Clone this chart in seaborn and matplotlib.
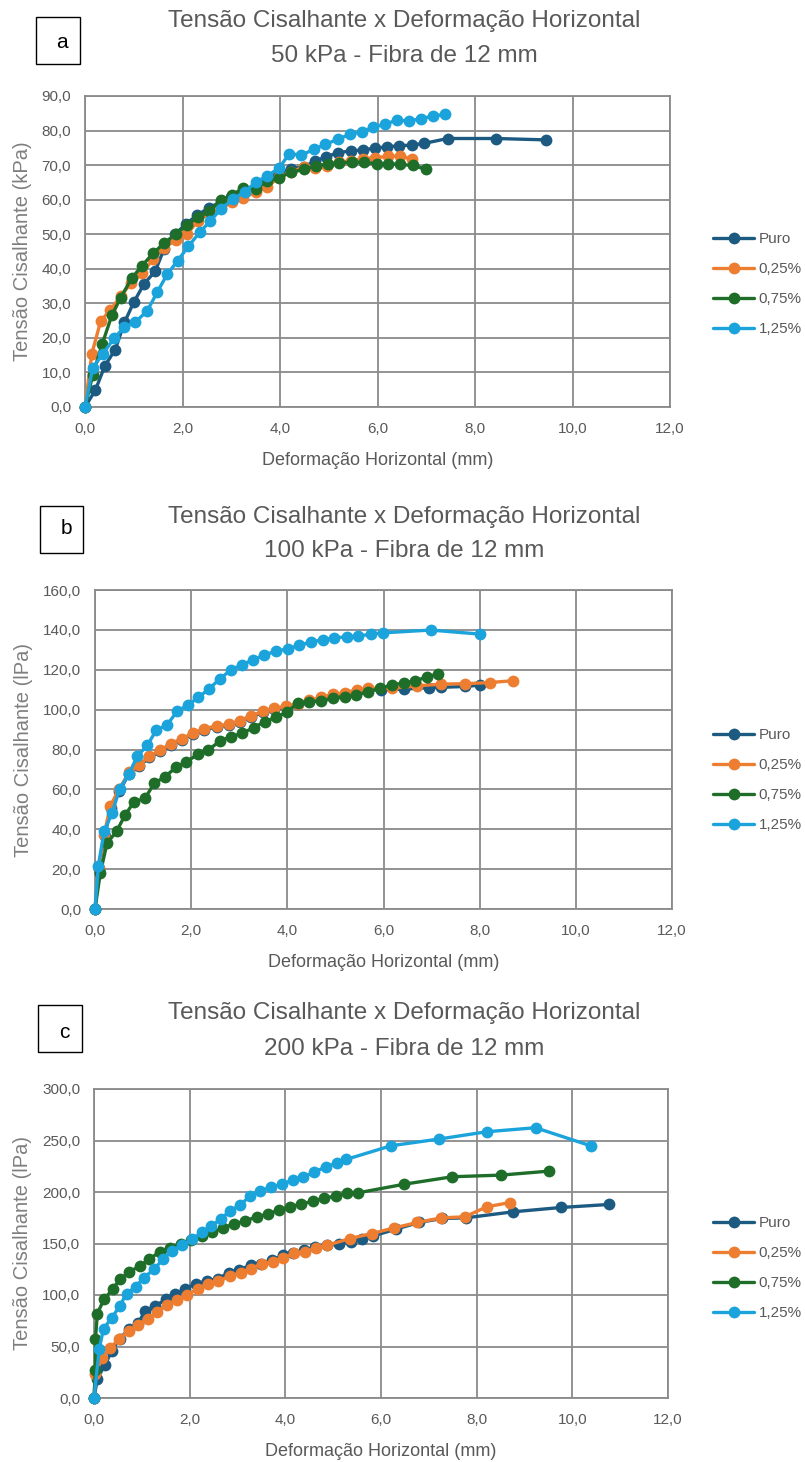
import numpy as np
import pandas as pd
import matplotlib
matplotlib.use("Agg")
import matplotlib.pyplot as plt
from matplotlib.patches import Rectangle
from matplotlib.ticker import FuncFormatter, MultipleLocator
import seaborn as sns

# ---------------- data ----------------
series = ["Puro", "0,25%", "0,75%", "1,25%"]
colors = ["#1D5A82", "#ED7D31", "#1E6E2A", "#1BA3DC"]

# Panel a - 50 kPa
a_puro_x = [0, 0.21, 0.41, 0.62, 0.81, 1.00, 1.21, 1.44, 1.62, 1.85, 2.07, 2.30, 2.55, 2.78, 3.00, 3.25, 3.50,
            3.74, 3.98, 4.23, 4.49, 4.72, 4.95, 5.19, 5.45, 5.70, 5.95, 6.20, 6.44, 6.70, 6.96, 7.44, 8.44, 9.45]
a_puro_y = [0, 4.8, 12.0, 16.6, 24.5, 30.3, 35.6, 39.3, 45.7, 50.0, 53.0, 55.5, 57.7, 59.3, 60.8, 62.5, 64.0,
            66.0, 67.8, 69.0, 69.5, 71.2, 72.4, 73.6, 74.1, 74.4, 74.9, 75.3, 75.6, 75.8, 76.3, 77.7, 77.7, 77.3]
a_025_x = [0, 0.14, 0.32, 0.52, 0.73, 0.94, 1.17, 1.40, 1.62, 1.86, 2.09, 2.32, 2.55, 2.79, 3.02, 3.25, 3.50,
           3.74, 3.98, 4.23, 4.49, 4.72, 4.97, 5.21, 5.46, 5.70, 5.95, 6.21, 6.46, 6.70]
a_025_y = [0, 15.4, 24.8, 28.1, 32.0, 35.8, 38.7, 42.8, 46.0, 48.3, 50.0, 53.9, 56.0, 57.6, 59.2, 60.4, 62.3,
           63.7, 66.5, 68.0, 69.5, 69.1, 69.8, 70.8, 71.3, 71.8, 72.2, 72.5, 72.7, 71.7]
a_075_x = [0, 0.16, 0.35, 0.55, 0.73, 0.96, 1.17, 1.40, 1.62, 1.86, 2.09, 2.32, 2.55, 2.79, 3.02, 3.25, 3.50,
           3.74, 3.98, 4.23, 4.49, 4.74, 4.98, 5.22, 5.47, 5.72, 5.98, 6.22, 6.47, 6.72, 7.00]
a_075_y = [0, 9.3, 18.1, 26.5, 31.6, 37.3, 40.9, 44.5, 47.4, 50.0, 52.7, 54.9, 56.6, 59.9, 61.3, 63.5, 63.2,
           65.3, 66.4, 67.9, 68.8, 69.8, 70.3, 70.7, 70.8, 70.8, 70.4, 70.4, 70.2, 69.9, 68.8]
a_125_x = [0, 0.16, 0.37, 0.60, 0.81, 1.03, 1.28, 1.48, 1.69, 1.90, 2.12, 2.35, 2.56, 2.79, 3.04, 3.28, 3.50,
           3.74, 3.98, 4.19, 4.44, 4.70, 4.93, 5.19, 5.43, 5.68, 5.91, 6.15, 6.39, 6.64, 6.89, 7.14, 7.39]
a_125_y = [0, 11.4, 15.4, 20.0, 23.1, 24.5, 27.9, 33.2, 38.5, 42.3, 46.5, 50.5, 53.7, 57.3, 60.2, 62.3, 65.0,
           66.9, 69.1, 73.3, 72.9, 74.6, 76.0, 77.5, 78.9, 79.7, 81.0, 81.8, 83.0, 82.8, 83.4, 84.2, 84.7]

# Panel b - 100 kPa
b_puro_x = [0, 0.08, 0.20, 0.33, 0.50, 0.71, 0.92, 1.13, 1.35, 1.58, 1.81, 2.04, 2.27, 2.53, 2.78, 3.02, 3.25,
            3.50, 3.73, 3.98, 4.22, 4.46, 4.71, 4.94, 5.19, 5.45, 5.68, 5.95, 6.43, 6.95, 7.20, 7.70, 8.00]
b_puro_y = [0, 20.0, 36.5, 50.5, 59.0, 67.8, 71.8, 76.0, 79.0, 82.3, 85.0, 87.6, 90.0, 91.3, 92.3, 94.0, 96.5,
            98.6, 100.3, 101.2, 102.6, 104.2, 105.6, 107.1, 108.0, 109.3, 110.1, 109.8, 110.3, 111.0, 111.2, 111.6, 112.3]
b_025_x = [0, 0.08, 0.19, 0.32, 0.50, 0.71, 0.92, 1.13, 1.35, 1.58, 1.81, 2.04, 2.27, 2.53, 2.78, 3.02, 3.25,
           3.50, 3.73, 3.98, 4.22, 4.46, 4.71, 4.94, 5.19, 5.45, 5.68, 6.17, 6.69, 7.20, 7.70, 8.21, 8.70]
b_025_y = [0, 20.6, 37.3, 51.8, 60.0, 68.7, 72.4, 76.7, 79.5, 82.9, 85.5, 88.1, 90.5, 91.8, 92.7, 94.4, 97.0,
           99.1, 100.8, 101.6, 103.0, 104.7, 106.1, 107.6, 108.5, 109.9, 110.7, 110.7, 111.9, 112.8, 113.0, 113.6, 114.5]
b_075_x = [0, 0.11, 0.25, 0.45, 0.62, 0.81, 1.04, 1.23, 1.46, 1.69, 1.90, 2.14, 2.36, 2.59, 2.82, 3.06, 3.30,
           3.53, 3.76, 3.99, 4.22, 4.46, 4.71, 4.94, 5.20, 5.43, 5.68, 5.93, 6.17, 6.43, 6.66, 6.91, 7.14]
b_075_y = [0, 18.0, 33.0, 39.0, 46.9, 53.7, 55.5, 63.0, 66.4, 71.2, 73.8, 77.6, 79.8, 84.1, 86.4, 88.1, 91.0,
           93.9, 96.1, 98.7, 103.3, 103.9, 104.4, 105.6, 106.4, 107.3, 109.0, 110.7, 112.4, 113.3, 114.5, 116.4, 117.9]
b_125_x = [0, 0.07, 0.19, 0.36, 0.51, 0.70, 0.88, 1.09, 1.27, 1.50, 1.71, 1.94, 2.15, 2.37, 2.60, 2.82, 3.05,
           3.29, 3.52, 3.76, 4.01, 4.24, 4.49, 4.74, 4.97, 5.24, 5.48, 5.73, 5.98, 6.98, 8.00]
b_125_y = [0, 21.8, 39.0, 48.4, 60.1, 67.5, 76.7, 82.1, 89.6, 92.4, 99.2, 102.5, 106.1, 110.4, 115.5, 119.8, 122.4,
           125.0, 127.4, 129.3, 130.5, 132.2, 133.9, 135.1, 136.0, 136.5, 136.8, 137.9, 138.5, 139.9, 137.9]

# Panel c - 200 kPa
c_puro_x = [0, 0.07, 0.23, 0.37, 0.54, 0.74, 0.93, 1.07, 1.28, 1.51, 1.70, 1.91, 2.14, 2.37, 2.60, 2.82, 3.04,
            3.28, 3.49, 3.72, 3.95, 4.17, 4.40, 4.63, 4.88, 5.13, 5.38, 5.60, 5.84, 6.31, 6.79, 7.28, 7.77, 8.77,
            9.77, 10.77]
c_puro_y = [0, 18.8, 32.4, 45.4, 57.7, 67.4, 73.2, 84.5, 89.4, 95.9, 100.7, 106.3, 111.1, 113.7, 116.0, 121.8,
            124.7, 128.9, 130.5, 133.8, 138.6, 140.9, 143.5, 146.7, 149.0, 150.0, 151.6, 154.2, 157.4, 163.9, 170.4,
            174.3, 174.9, 180.8, 185.0, 187.9]
c_025_x = [0, 0.03, 0.17, 0.34, 0.53, 0.73, 0.91, 1.12, 1.32, 1.52, 1.74, 1.95, 2.17, 2.39, 2.60, 2.84, 3.07,
           3.28, 3.52, 3.74, 3.95, 4.19, 4.42, 4.65, 4.88, 5.35, 5.81, 6.28, 6.76, 7.26, 7.75, 8.21, 8.70]
c_025_y = [0, 23.6, 39.2, 48.6, 57.7, 65.1, 70.6, 77.1, 83.6, 90.7, 94.9, 99.8, 106.3, 110.5, 113.4, 118.6, 121.5,
           125.7, 130.5, 132.2, 136.1, 140.3, 141.9, 145.8, 148.4, 154.8, 159.7, 165.2, 170.4, 174.9, 175.9, 185.6,
           189.8]
c_075_x = [0, 0.03, 0.03, 0.07, 0.21, 0.39, 0.54, 0.74, 0.96, 1.16, 1.37, 1.58, 1.81, 2.03, 2.25, 2.47, 2.70,
           2.93, 3.16, 3.40, 3.63, 3.86, 4.09, 4.33, 4.58, 4.81, 5.05, 5.28, 5.52, 6.49, 7.49, 8.51, 9.52]
c_075_y = [0, 27.5, 57.0, 82.0, 95.9, 105.6, 115.3, 122.4, 128.3, 134.8, 141.9, 146.1, 149.3, 153.5, 157.4, 160.7,
           165.5, 168.8, 172.0, 175.9, 178.5, 182.4, 185.6, 188.2, 191.1, 193.7, 196.3, 198.6, 199.2, 207.6, 214.8,
           216.4, 220.3]
c_125_x = [0, 0.11, 0.20, 0.37, 0.54, 0.68, 0.87, 1.04, 1.26, 1.44, 1.63, 1.84, 2.05, 2.25, 2.45, 2.65, 2.84,
           3.05, 3.26, 3.47, 3.69, 3.93, 4.16, 4.37, 4.60, 4.84, 5.07, 5.27, 6.21, 7.21, 8.21, 9.23, 10.40]
c_125_y = [0, 47.9, 67.4, 77.7, 89.4, 101.4, 107.9, 116.9, 125.0, 134.8, 142.9, 148.4, 154.2, 160.7, 167.2, 173.6,
           181.7, 187.2, 196.0, 201.2, 204.4, 207.6, 211.5, 214.8, 219.0, 224.5, 227.7, 231.6, 244.9, 251.4, 258.5,
           262.4, 244.6]

panel_letters = ["a", "b", "c"]
panel_titles = ["Tensão Cisalhante x Deformação Horizontal\n50 kPa - Fibra de 12 mm",
                "Tensão Cisalhante x Deformação Horizontal\n100 kPa - Fibra de 12 mm",
                "Tensão Cisalhante x Deformação Horizontal\n200 kPa - Fibra de 12 mm"]
y_labels = ["Tensão Cisalhante (kPa)", "Tensão Cisalhante (lPa)", "Tensão Cisalhante (lPa)"]
x_label = "Deformação Horizontal (mm)"
y_max = [90, 160, 300]
y_step = [10, 20, 50]
x_max = 12
x_step = 2

panel_data = [
    [(a_puro_x, a_puro_y), (a_025_x, a_025_y), (a_075_x, a_075_y), (a_125_x, a_125_y)],
    [(b_puro_x, b_puro_y), (b_025_x, b_025_y), (b_075_x, b_075_y), (b_125_x, b_125_y)],
    [(c_puro_x, c_puro_y), (c_025_x, c_025_y), (c_075_x, c_075_y), (c_125_x, c_125_y)],
]

# ---------------- style ----------------
sns.set_theme(style="whitegrid")
plt.rcParams["font.family"] = ["Liberation Sans", "DejaVu Sans"]
GRID = "#8a8a8a"
TXT = "#595959"

fig = plt.figure(figsize=(8.05, 14.62), dpi=100)

W, H = 805.0, 1462.0
# axes boxes in pixels: left, top, right, bottom
ax_px = [(85, 96, 670, 407), (95, 590, 672, 909), (94, 1089, 668, 1398)]
box_px = [(36, 17, 80, 64), (40, 506, 83, 553), (38, 1005, 82, 1052)]
letter_px = [(62, 42), (66, 529), (64, 1032)]
title_px = [(404, 21, 56), (404, 517, 551), (404, 1013, 1049)]
legend_cy = [284, 780, 1268]

fmt = FuncFormatter(lambda v, p: f"{v:.1f}".replace(".", ","))

for i in range(3):
    l, t, r, b = ax_px[i]
    ax = fig.add_axes([l / W, 1 - b / H, (r - l) / W, (b - t) / H])
    rows = []
    for name, (xs, ys) in zip(series, panel_data[i]):
        for xv, yv in zip(xs, ys):
            rows.append({"x": xv, "y": yv, "serie": name})
    df = pd.DataFrame(rows)
    sns.lineplot(data=df, x="x", y="y", hue="serie", hue_order=series,
                 palette=colors, sort=False, estimator=None, marker="o",
                 markersize=8.5, markeredgewidth=0, linewidth=2.4, ax=ax,
                 clip_on=False, zorder=3)
    ax.set_xlim(0, x_max)
    ax.set_ylim(0, y_max[i])
    ax.xaxis.set_major_locator(MultipleLocator(x_step))
    ax.yaxis.set_major_locator(MultipleLocator(y_step[i]))
    ax.xaxis.set_major_formatter(fmt)
    ax.yaxis.set_major_formatter(fmt)
    ax.grid(True, color=GRID, linewidth=1.3)
    ax.set_axisbelow(True)
    for s in ax.spines.values():
        s.set_visible(True)
        s.set_color(GRID)
        s.set_linewidth(1.3)
    ax.tick_params(axis="both", length=0, labelsize=11, colors=TXT)
    ax.tick_params(axis="y", pad=10)
    ax.tick_params(axis="x", pad=11)
    ax.set_xlabel(x_label, fontsize=13, color=TXT, labelpad=11)
    ax.set_ylabel(y_labels[i], fontsize=14.5, color="#7f7f7f", labelpad=7)

    sns.move_legend(ax, "center left",
                    bbox_to_anchor=(713 / W, 1 - legend_cy[i] / H),
                    bbox_transform=fig.transFigure, title=None, frameon=False,
                    fontsize=11, borderpad=0, borderaxespad=0,
                    handlelength=2.7, handletextpad=0.3, labelspacing=1.05)
    for txt in ax.get_legend().get_texts():
        txt.set_color(TXT)

    # title
    tx, ty1, ty2 = title_px[i]
    t1, t2 = panel_titles[i].split("\n")
    fig.text(tx / W, 1 - ty1 / H, t1, ha="center", va="center", fontsize=17.5, color=TXT)
    fig.text(tx / W, 1 - ty2 / H, t2, ha="center", va="center", fontsize=17.5, color=TXT)

    # letter box
    bl, bt, br, bb = box_px[i]
    fig.patches.append(Rectangle((bl / W, 1 - bb / H), (br - bl) / W, (bb - bt) / H,
                                 transform=fig.transFigure, fill=False,
                                 edgecolor="black", linewidth=1.0))
    lx, ly = letter_px[i]
    fig.text(lx / W, 1 - ly / H, panel_letters[i], ha="center", va="center",
             fontsize=15, color="black")

fig.savefig("out.png", dpi=100)
